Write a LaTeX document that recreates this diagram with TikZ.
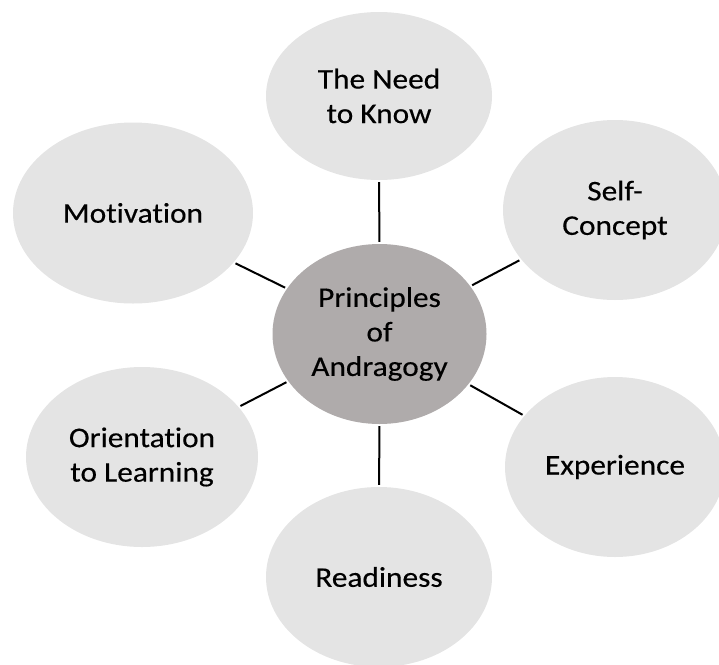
\documentclass[tikz,border=0pt]{standalone}
\usepackage{fontspec}
\setmainfont{Carlito}[FakeStretch=1.1,FakeBold=0.3,Ligatures={NoCommon}]
\usepackage{tikz}
\usetikzlibrary{shapes.geometric}
\definecolor{petalgray}{HTML}{E4E4E4}
\definecolor{hubgray}{HTML}{AFABAB}

\begin{document}
\begin{tikzpicture}[x=1pt,y=-1pt,
	petal/.style={ellipse,fill=petalgray,inner sep=0pt,align=center,font=\fontsize{28.5pt}{34.5pt}\selectfont},
	link/.style={line width=2pt,shorten <=2pt,shorten >=2pt}]
	\useasboundingbox (0,0) rectangle (719,664);
	% hub
	\node[petal,fill=hubgray,minimum width=214pt,minimum height=180pt](core) at (379.5,334){Principles\\of\\Andragogy};
	% the six principles around it
	\node[petal,minimum width=226pt,minimum height=168pt](need) at (379,96){The Need\\to Know};
	\node[petal,minimum width=224pt,minimum height=180pt](self) at (615,210){Self-\\Concept};
	\node[petal,minimum width=220pt,minimum height=180pt](exper) at (615,467){Experience};
	\node[petal,minimum width=226pt,minimum height=180pt](ready) at (379,577){Readiness};
	\node[petal,minimum width=232pt,minimum height=180pt](orient) at (142,457){Orientation\\to Learning};
	\node[petal,minimum width=240pt,minimum height=181pt](motiv) at (133,213){Motivation};
	\foreach \p in {need,self,exper,ready,orient,motiv}
		\draw[link](core)--(\p);
\end{tikzpicture}
\end{document}
